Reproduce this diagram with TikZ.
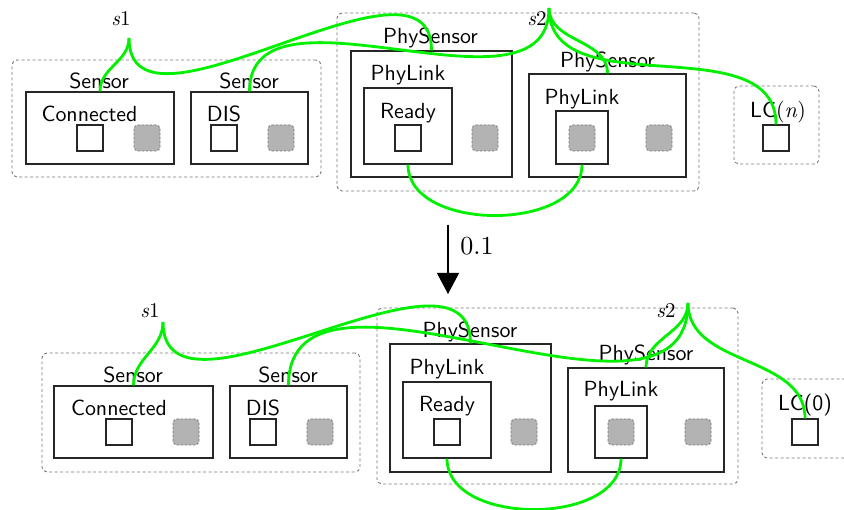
\documentclass[tikz,border=0pt]{standalone}
\usepackage{fontspec}
\setmainfont{lmroman10-regular.otf}[ItalicFont=lmroman10-italic.otf]
\setsansfont{lmsans10-regular.otf}
\usetikzlibrary{fit,arrows.meta}
\definecolor{wiregreen}{RGB}{0,240,0}
\definecolor{boxgray}{RGB}{179,179,179}
\definecolor{dashgray}{RGB}{120,120,120}
\newcommand{\statevar}[1]{{\rmfamily\fontsize{21}{25}\selectfont\textit{s}#1}}
\begin{document}
\begin{tikzpicture}[x=1pt,y=1pt,
  every node/.style={font=\sffamily\fontsize{21.9}{26}\selectfont},
  box/.style={draw=black!85, line width=1.3pt, inner sep=0pt, rectangle},
  grp/.style={draw=dashgray, dash pattern=on 3pt off 2.5pt, line width=0.9pt, rounded corners=5pt, inner sep=0pt, rectangle},
  wsq/.style={draw=black!85, line width=1.3pt, fill=white, minimum size=26pt, inner sep=0pt, rectangle},
  gsq/.style={draw=dashgray, fill=boxgray, dash pattern=on 2.5pt off 1.5pt, line width=0.9pt, rounded corners=4pt, minimum size=26pt, inner sep=0pt, rectangle},
  lbl/.style={anchor=base, inner sep=0pt},
  wire/.style={draw=wiregreen, line width=2.8pt},
]
\useasboundingbox (0,0) rectangle (844,-510);
\clip (0,0) rectangle (844,-510);

% ---------------- top state ----------------
\node[grp, fit={(12,-60) (321,-177)}] (g1) {};
\node[box, fit={(26,-92) (174,-164)}] (sen1) {};
\node[lbl] (sen1t) at (99,-89) {Sensor};
\node[lbl] (con1) at (89.5,-122) {Connected};
\node[wsq] (sq1) at (90,-138) {};
\node[gsq] (gq1) at (147,-138) {};
\node[box, fit={(191,-92) (308,-164)}] (sen2) {};
\node[lbl] (sen2t) at (249,-89) {Sensor};
\node[lbl] (dis1) at (224,-122) {DIS};
\node[wsq] (sq2) at (224,-138) {};
\node[gsq] (gq2) at (281,-138) {};
\node[lbl] (s1a) at (121,-26) {\statevar{1}};
\coordinate (f1) at (129,-38);

\node[grp, fit={(337,-13) (699,-191)}] (g2) {};
\node[box, fit={(351,-51) (512,-177)}] (ps1) {};
\node[lbl] (ps1t) at (430.5,-43.5) {PhySensor};
\node[box, fit={(364,-88) (452,-164)}] (il1) {};
\node[lbl] (pl1t) at (408,-80.5) {PhyLink};
\node[lbl] (rd1) at (408,-118.5) {Ready};
\node[wsq] (sq3) at (408,-138) {};
\node[gsq] (gq3) at (485,-138) {};
\node[box, fit={(529,-74) (686,-177)}] (ps2) {};
\node[lbl] (ps2t) at (607.5,-68) {PhySensor};
\node[box, fit={(556,-111) (608,-164)}] (il2) {};
\node[lbl] (pl2t) at (582,-105) {PhyLink};
\node[gsq] (gq4) at (582,-138) {};
\node[gsq] (gq5) at (659,-138) {};
\node[lbl] (s2a) at (537,-26) {\statevar{2}};
\coordinate (f2) at (549,-8);

\node[grp, fit={(734,-86) (819,-164)}] (lc1) {};
\node[lbl] (lc1t) at (778,-118) {LC{\rmfamily(\textit{n})}};
\node[wsq] (sq6) at (776,-138) {};

\draw[wire] (f1) to[out=-90,in=90] (sen1.north);
\draw[wire] (f1) to[out=-90,in=90] (ps1.north);
\draw[wire] (f2) to[out=-90,in=90] (sen2.north);
\draw[wire] (f2) to[out=-90,in=90] (ps2.north);
\draw[wire] (f2) to[out=-90,in=90] (sq6.north);
\draw[wire] (il1.south) to[out=-90,in=-90] (il2.south);

% ---------------- transition ----------------
\coordinate (a0) at (448,-225);
\coordinate (a1) at (448,-294);
\draw[line width=1.1pt, -{Triangle[width=22pt,length=21pt]}] (a0) -- (a1);
\node[lbl, font=\rmfamily\fontsize{26}{30}\selectfont] (prob) at (477,-255) {0.1};

% ---------------- bottom state ----------------
\node[grp, fit={(42,-353) (360,-472)}] (g3) {};
\node[box, fit={(54,-386) (213,-458)}] (sen3) {};
\node[lbl] (sen3t) at (133,-383) {Sensor};
\node[lbl] (con3) at (119,-416) {Connected};
\node[wsq] (sq7) at (119,-432) {};
\node[gsq] (gq7) at (186,-432) {};
\node[box, fit={(230,-386) (347,-458)}] (sen4) {};
\node[lbl] (sen4t) at (288,-383) {Sensor};
\node[lbl] (dis4) at (263,-416) {DIS};
\node[wsq] (sq8) at (263,-432) {};
\node[gsq] (gq8) at (320,-432) {};
\node[lbl] (s1b) at (150,-318) {\statevar{1}};
\coordinate (f3) at (163,-322);

\node[grp, fit={(377,-308) (738,-484)}] (g4) {};
\node[box, fit={(390,-344) (551,-472)}] (ps3) {};
\node[lbl] (ps3t) at (470,-338) {PhySensor};
\node[box, fit={(403,-382) (491,-458)}] (il3) {};
\node[lbl] (pl3t) at (447,-375) {PhyLink};
\node[lbl] (rd3) at (447,-411.5) {Ready};
\node[wsq] (sq9) at (447,-432) {};
\node[gsq] (gq9) at (524,-432) {};
\node[box, fit={(568,-368) (724,-472)}] (ps4) {};
\node[lbl] (ps4t) at (646,-361) {PhySensor};
\node[box, fit={(595,-406) (647,-458)}] (il4) {};
\node[lbl] (pl4t) at (621,-397) {PhyLink};
\node[gsq] (gq10) at (621,-432) {};
\node[gsq] (gq11) at (698,-432) {};
\node[lbl] (s2b) at (666,-318) {\statevar{2}};
\coordinate (f4) at (688,-303);

\node[grp, fit={(762,-379) (850,-458)}] (lc2) {};
\node[lbl] (lc2t) at (805,-410.5) {LC(0)};
\node[wsq] (sq12) at (805,-432) {};

\draw[wire] (f3) to[out=-90,in=90] (sen3.north);
\draw[wire] (f3) to[out=-90,in=90] (ps3.north);
\draw[wire] (f4) to[out=-90,in=90] (sen4.north);
\draw[wire] (f4) to[out=-90,in=90] (ps4.north);
\draw[wire] (f4) to[out=-90,in=90] (sq12.north);
\draw[wire] (il3.south) to[out=-90,in=-90] (il4.south);
\end{tikzpicture}
\end{document}
